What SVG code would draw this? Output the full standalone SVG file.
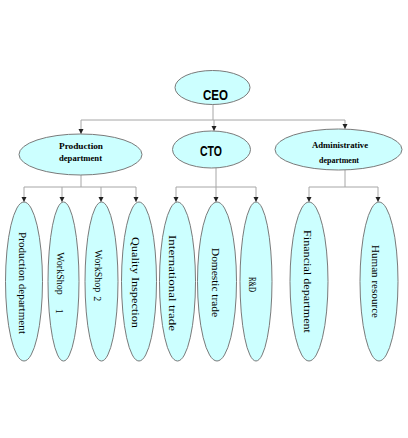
<svg xmlns="http://www.w3.org/2000/svg" width="408" height="438" viewBox="0 0 408 438">
<style>
.node ellipse{fill:#ccffff;stroke:#7a7a7a;stroke-width:1}
.conn path{fill:none;stroke:#a6a6a6;stroke-width:1}
.big{font-family:"Liberation Sans",Arial,sans-serif;font-weight:bold;font-size:15px;fill:#000;text-anchor:middle;dominant-baseline:central}
.mid{font-family:"Liberation Serif","Times New Roman",serif;font-weight:bold;font-size:9px;fill:#000;text-anchor:middle;dominant-baseline:central}
.vt{font-family:"Liberation Serif","Times New Roman",serif;font-size:10px;fill:#000;text-anchor:middle;dominant-baseline:central}
</style>
<defs>
<marker id="arr" markerUnits="userSpaceOnUse" markerWidth="6" markerHeight="6" viewBox="0 0 6 6" refX="5" refY="3" orient="auto">
<path d="M0,0.5 L5,3 L0,5.5 Z" fill="#222"/>
</marker>
</defs>
<rect width="408" height="438" fill="#fff"/>
<g class="conn">
<path d="M213,104 V120"/>
<path d="M81,120 H345"/>
<path d="M81,120 V134" marker-end="url(#arr)"/>
<path d="M214,120 V131" marker-end="url(#arr)"/>
<path d="M345,120 V129" marker-end="url(#arr)"/>
<path d="M81,175 V187 M24,187 H136"/>
<path d="M24,187 V202" marker-end="url(#arr)"/>
<path d="M62,187 V202" marker-end="url(#arr)"/>
<path d="M101,187 V202" marker-end="url(#arr)"/>
<path d="M136,187 V202" marker-end="url(#arr)"/>
<path d="M216,168 V187 M176,187 H256"/>
<path d="M176,187 V202" marker-end="url(#arr)"/>
<path d="M216,187 V202" marker-end="url(#arr)"/>
<path d="M256,187 V202" marker-end="url(#arr)"/>
<path d="M345,170 V187 M309,187 H378"/>
<path d="M309,187 V202" marker-end="url(#arr)"/>
<path d="M378,187 V202" marker-end="url(#arr)"/>
</g>
<g id="ceo" class="node"><ellipse cx="212.5" cy="87.5" rx="37.5" ry="17"/><text class="big" x="215.5" y="94" textLength="25" lengthAdjust="spacingAndGlyphs">CEO</text></g>
<g id="production" class="node"><ellipse cx="80.5" cy="154.5" rx="61.5" ry="20.5"/><text class="mid" x="81" y="146" textLength="44" lengthAdjust="spacingAndGlyphs">Production</text><text class="mid" x="80.5" y="157.5" textLength="43" lengthAdjust="spacingAndGlyphs">department</text></g>
<g id="cto" class="node"><ellipse cx="211.5" cy="149.5" rx="39" ry="18.5"/><text class="big" x="211" y="150.5" textLength="22" lengthAdjust="spacingAndGlyphs">CTO</text></g>
<g id="admin" class="node"><ellipse cx="338.5" cy="149.5" rx="63.5" ry="20.5"/><text class="mid" x="340" y="145" textLength="56" lengthAdjust="spacingAndGlyphs">Administrative</text><text class="mid" x="339" y="159.5" textLength="40" lengthAdjust="spacingAndGlyphs">department</text></g>
<g id="prod-dept" class="node"><ellipse cx="24" cy="281.5" rx="18.5" ry="79.5"/><text class="vt" transform="translate(22.5,283) rotate(90)" textLength="102" lengthAdjust="spacingAndGlyphs">Production department</text></g>
<g id="workshop1" class="node"><ellipse cx="63.5" cy="281.5" rx="15.5" ry="79.5"/><text class="vt" transform="translate(60,283) rotate(90)">WorkShop<tspan dx="14">1</tspan></text></g>
<g id="workshop2" class="node"><ellipse cx="101.5" cy="281.5" rx="16.5" ry="79.5"/><text class="vt" transform="translate(98,275.5) rotate(90)">WorkShop<tspan dx="4">2</tspan></text></g>
<g id="quality" class="node"><ellipse cx="139" cy="281.5" rx="17.5" ry="79.5"/><text class="vt" transform="translate(135,282.5) rotate(90)" textLength="91" lengthAdjust="spacingAndGlyphs">Quality Inspection</text></g>
<g id="intl" class="node"><ellipse cx="177.5" cy="281.5" rx="18" ry="79.5"/><text class="vt" transform="translate(172,283) rotate(90)" textLength="96" lengthAdjust="spacingAndGlyphs">International trade</text></g>
<g id="domestic" class="node"><ellipse cx="217" cy="281.5" rx="19.5" ry="79.5"/><text class="vt" transform="translate(215,282.5) rotate(90)" textLength="69" lengthAdjust="spacingAndGlyphs">Domestic trade</text></g>
<g id="rnd" class="node"><ellipse cx="256" cy="281.5" rx="16" ry="79.5"/><text class="vt" transform="translate(252,284.5) rotate(90)" textLength="15" lengthAdjust="spacingAndGlyphs">R&amp;D</text></g>
<g id="financial" class="node"><ellipse cx="309" cy="281.5" rx="19" ry="79.5"/><text class="vt" transform="translate(307,281.5) rotate(90)" textLength="103" lengthAdjust="spacingAndGlyphs">Financial department</text></g>
<g id="human" class="node"><ellipse cx="379" cy="281.5" rx="19" ry="79.5"/><text class="vt" transform="translate(375,281.5) rotate(90)" textLength="73" lengthAdjust="spacingAndGlyphs">Human resource</text></g>
</svg>
